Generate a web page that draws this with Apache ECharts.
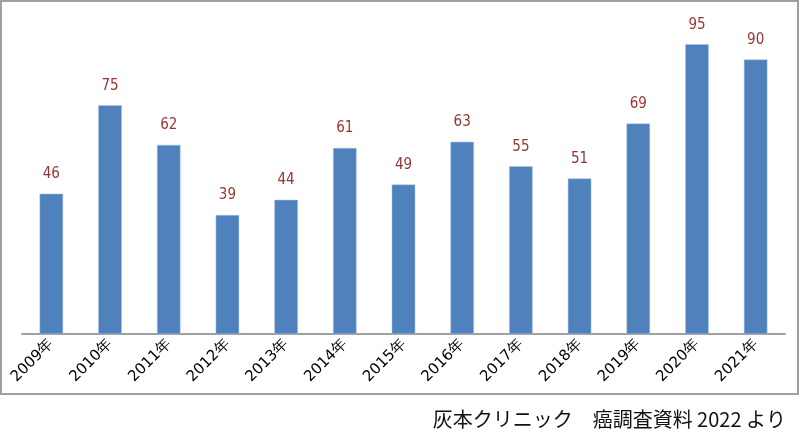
<!DOCTYPE html>
<html><head><meta charset="utf-8">
<script src="https://cdn.jsdelivr.net/npm/echarts@6/dist/echarts.min.js"></script>
<style>html,body{margin:0;padding:0;background:#fff}#c{width:800px;height:437px}</style>
</head><body><div id="c"></div>
<script>
const categories = ['2009年','2010年','2011年','2012年','2013年','2014年','2015年','2016年','2017年','2018年','2019年','2020年','2021年'];
const values = [46,75,62,39,44,61,49,63,55,51,69,95,90];
const footer = '灰本クリニック　癌調査資料 2022 より';

const chart = echarts.init(document.getElementById('c'));
chart.setOption({
  animation: false,
  grid: {left: 22, right: 15, top: 29, bottom: 103},
  graphic: [{
    type: 'rect', shape: {x: 1, y: 1, width: 797, height: 393},
    style: {fill: 'none', stroke: '#a0a0a0', lineWidth: 2}, z: -1
  }],
  title: {
    text: footer, right: 9, top: 402,
    textStyle: {fontFamily: 'Noto Sans CJK JP', fontSize: 20, fontWeight: 'normal', color: '#111', lineHeight: 24}
  },
  xAxis: {
    type: 'category', data: categories,
    axisLine: {lineStyle: {color: '#a0a0a0', width: 2}},
    axisTick: {show: false},
    axisLabel: {rotate: 45, fontSize: 15, color: '#000', fontFamily: 'DejaVu Sans', margin: 8, interval: 0}
  },
  yAxis: {type: 'value', min: 0, max: 100, show: false, splitLine: {show: false}},
  series: [{
    type: 'bar', data: values, barWidth: '40%',
    itemStyle: {color: '#4f81bd', borderColor: '#a9c3e3', borderWidth: 0.5},
    label: {show: true, position: 'top', distance: 12, color: '#943634', fontSize: 15,
      fontFamily: 'Liberation Sans Narrow, DejaVu Sans Condensed, sans-serif'}
  }]
});
</script></body></html>
